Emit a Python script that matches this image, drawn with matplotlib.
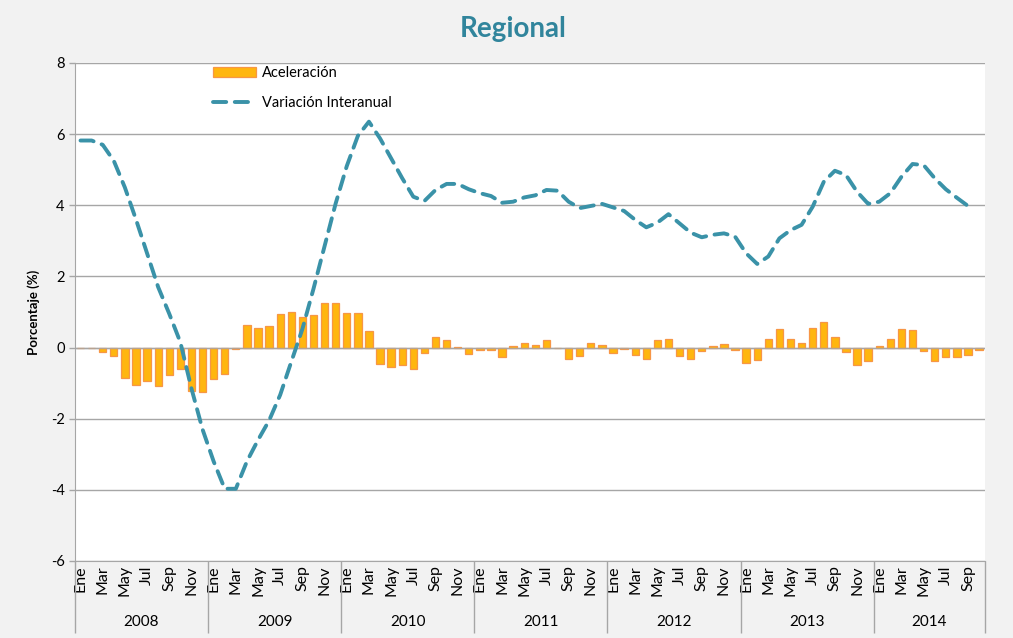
import numpy as np
import matplotlib
matplotlib.use('Agg')
import matplotlib.pyplot as plt

plt.rcParams['font.family'] = ['Lato', 'DejaVu Sans']

# data (Ene 2008 - Oct 2014)
years = ['2008', '2009', '2010', '2011', '2012', '2013', '2014']
month_names = ['Ene', 'Feb', 'Mar', 'Abr', 'May', 'Jun', 'Jul', 'Ago', 'Sep', 'Oct', 'Nov', 'Dic']
months_per_year = [12, 12, 12, 12, 12, 12, 10]

aceleracion = [0.0, -0.01, -0.12, -0.24, -0.85, -1.04, -0.93, -1.09, -0.78, -0.61, -1.21, -1.26,
               -0.89, -0.75, -0.03, 0.63, 0.55, 0.60, 0.93, 0.99, 0.85, 0.92, 1.25, 1.25,
               0.97, 0.97, 0.46, -0.46, -0.56, -0.50, -0.59, -0.14, 0.30, 0.22, 0.02, -0.17,
               -0.08, -0.08, -0.26, 0.04, 0.12, 0.08, 0.20, -0.02, -0.33, -0.23, 0.12, 0.06,
               -0.14, -0.05, -0.22, -0.32, 0.20, 0.24, -0.23, -0.33, -0.11, 0.05, 0.09, -0.07,
               -0.44, -0.36, 0.24, 0.52, 0.24, 0.13, 0.56, 0.72, 0.30, -0.13, -0.48, -0.38,
               0.05, 0.24, 0.51, 0.50, -0.10, -0.37, -0.27, -0.27, -0.22, -0.06]

variacion = [5.82, 5.82, 5.70, 5.25, 4.50, 3.60, 2.65, 1.70, 0.95, 0.15, -1.15, -2.30,
             -3.20, -3.97, -3.97, -3.20, -2.60, -2.05, -1.33, -0.40, 0.52, 1.65, 2.85, 4.05,
             5.10, 5.95, 6.35, 5.88, 5.32, 4.76, 4.24, 4.12, 4.43, 4.60, 4.60, 4.45,
             4.34, 4.26, 4.07, 4.10, 4.22, 4.28, 4.43, 4.41, 4.10, 3.92, 3.98, 4.04,
             3.94, 3.84, 3.59, 3.38, 3.51, 3.75, 3.49, 3.23, 3.10, 3.17, 3.21, 3.12,
             2.65, 2.35, 2.56, 3.07, 3.30, 3.45, 3.96, 4.66, 4.97, 4.85, 4.38, 4.04,
             4.10, 4.34, 4.80, 5.16, 5.13, 4.76, 4.45, 4.21, 3.98, np.nan]

y_ticks = [-6, -4, -2, 0, 2, 4, 6, 8]

n = len(aceleracion)
x = np.arange(n)
labels = []
for m in months_per_year:
    labels += month_names[:m]

grid_col = '#a6a6a6'

fig = plt.figure(figsize=(10.13, 6.38), dpi=100, facecolor='#f2f2f2')
ax = fig.add_axes([0.074, 0.1207, 0.898, 0.7806])
ax.set_facecolor('white')

bars = ax.bar(x, aceleracion, width=0.66, color='#ffb60f', edgecolor='#f79646', linewidth=0.9,
              label='Aceleración', zorder=2)
ax.axhline(0, color=grid_col, linewidth=1.0, zorder=3, alpha=0.8)
line, = ax.plot(x, variacion, color='#3a92a8', linewidth=2.8, linestyle=(0, (3.4, 2.2)),
                dash_capstyle='round', label='Variación Interanual', zorder=4)

ax.set_xlim(-0.5, n - 0.5)
ax.set_ylim(-6, 8)
ax.set_yticks(y_ticks)
ax.set_yticklabels([str(v) for v in y_ticks], fontsize=10.5)
ax.yaxis.grid(True, color=grid_col, linewidth=1.0)
ax.set_axisbelow(True)

# month labels every two months
ax.set_xticks(x[::2])
ax.set_xticklabels(labels[::2], rotation=90, fontsize=11.5)
ax.tick_params(axis='x', which='major', length=0, pad=3)

# year separators as long minor ticks
bounds = [-0.5]
for m in months_per_year:
    bounds.append(bounds[-1] + m)
ax.set_xticks(bounds, minor=True)
ax.tick_params(axis='x', which='minor', length=52, width=1.0, color=grid_col, direction='out')
ax.tick_params(axis='y', length=4, width=1.0, color=grid_col)

for i, yr in enumerate(years):
    ax.text((bounds[i] + bounds[i + 1]) / 2, -0.123, yr, transform=ax.get_xaxis_transform(),
            ha='center', va='center', fontsize=11)

for s in ['top', 'right']:
    ax.spines[s].set_visible(False)
ax.spines['left'].set_color(grid_col)
ax.spines['bottom'].set_color(grid_col)

ax.set_ylabel('Porcentaje (%)', fontsize=9.5, fontweight='bold', labelpad=8)

ax.legend([bars, line], ['Aceleración', 'Variación Interanual'], loc='upper left',
          bbox_to_anchor=(0.145, 1.005), frameon=False, fontsize=10.5,
          handlelength=3.0, labelspacing=1.1, handletextpad=0.4, borderaxespad=0)

fig.text(0.507, 0.975, 'Regional', ha='center', va='top', fontsize=20, fontweight='bold',
         color='#31859c')

fig.savefig('out.png', dpi=100, facecolor=fig.get_facecolor())
